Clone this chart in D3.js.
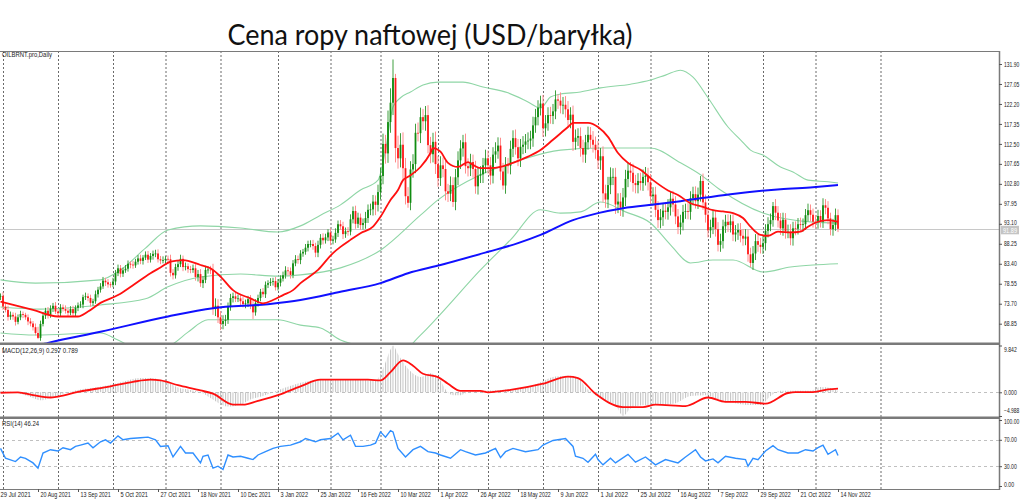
<!DOCTYPE html>
<html><head><meta charset="utf-8">
<script src="https://cdn.jsdelivr.net/npm/d3@7"></script>
<style>body{margin:0;background:#fff}svg{display:block}</style>
</head><body><svg id="c" width="1024" height="499"></svg>
<script>
// ---------------- DATA ----------------
const closes = [
75.5,75.6,73.0,72.2,70.5,71.0,70.6,69.3,70.4,71.2,71.0,70.4,69.4,68.9,68.0,66.6,
65.4,68.8,70.8,72.0,71.0,72.5,73.2,71.8,71.4,72.8,72.4,72.0,71.5,72.4,71.4,72.7,
73.3,73.5,75.3,75.5,75.1,73.9,74.3,76.0,77.1,77.9,79.3,78.9,78.4,78.3,79.1,81.1,
82.3,81.0,81.8,82.2,83.4,83.2,83.0,83.9,84.7,84.1,84.9,85.6,84.4,85.3,85.8,85.9,
84.5,84.2,84.3,84.6,84.5,81.2,80.6,82.6,83.3,84.6,82.6,82.8,82.1,81.9,82.3,80.2,
80.9,78.7,79.5,81.9,82.0,81.9,72.5,73.2,70.4,68.8,69.5,69.8,72.9,75.1,75.5,74.9,
75.0,74.3,73.6,73.8,74.8,73.4,71.6,73.9,75.1,76.6,76.0,78.3,78.7,79.0,79.2,77.7,
78.8,79.8,80.6,81.8,81.6,80.7,83.5,84.5,84.3,85.9,86.3,87.3,88.2,88.2,87.7,86.1,
88.0,89.7,89.1,89.8,91.0,89.0,89.3,90.9,93.0,92.5,90.6,91.3,91.2,94.2,96.2,93.1,
94.6,92.8,93.3,94.5,96.5,96.6,98.5,97.7,100.8,104.7,112.5,110.2,117.8,122.5,128.5,111.5,
109.0,112.3,106.6,99.8,98.2,106.3,107.6,115.2,115.1,119.0,118.0,119.5,112.2,110.0,113.0,107.6,
104.2,107.3,106.4,101.0,100.4,102.5,98.4,104.4,108.5,111.4,112.9,107.1,106.6,108.1,106.4,102.2,
104.8,105.1,107.3,109.0,107.3,104.8,109.9,110.7,112.1,105.8,102.4,107.3,107.2,111.3,113.9,111.7,
109.0,111.8,112.3,113.1,113.3,113.8,117.0,119.0,121.3,122.3,116.3,117.5,119.5,119.3,120.4,123.3,
123.0,121.8,122.0,120.9,118.3,119.6,113.0,114.0,114.4,111.5,109.9,112.9,114.7,113.5,112.3,111.0,
108.5,109.5,100.5,99.0,102.5,104.5,104.5,97.8,98.5,97.0,99.5,104.0,106.0,105.5,103.0,102.5,
103.5,103.0,104.5,104.8,103.2,99.8,100.2,96.5,94.0,94.7,96.3,96.0,97.1,99.2,97.8,94.9,
92.3,93.4,96.0,96.2,96.0,99.3,100.3,98.6,100.2,103.5,98.3,95.3,91.5,92.3,94.6,91.8,
88.0,88.9,92.5,93.6,92.8,93.7,90.5,91.0,91.6,90.2,89.5,90.0,85.7,83.6,85.9,88.9,
88.0,87.5,88.4,91.4,93.0,94.0,97.4,95.8,93.9,92.0,94.1,91.2,91.2,89.6,92.0,91.9,
93.0,92.8,93.0,95.2,96.4,95.3,93.6,93.5,95.0,93.6,97.6,97.0,94.4,91.8,92.8,95.2,
91.89];
const firstOpen = 75.2;
const wickUp = [
0.8,0.6,0.9,0.7,1.0,0.8,0.6,0.9,0.7,0.8,0.6,0.5,0.7,0.8,0.6,0.9,
1.5,0.8,0.9,0.7,0.9,0.8,0.7,0.9,0.6,0.8,0.7,0.9,0.6,0.7,0.8,0.6,
0.7,0.8,0.6,0.9,0.7,0.8,0.6,0.9,0.7,0.8,0.9,0.7,0.8,0.6,0.9,0.8,
0.9,0.8,0.7,0.9,0.8,0.6,0.9,0.7,0.8,0.9,0.6,0.8,0.9,0.7,0.8,0.9,
1.0,0.8,0.9,0.7,0.8,1.1,0.9,0.8,0.9,1.0,0.8,0.9,0.7,0.8,0.9,1.0,
1.0,1.2,0.9,1.0,0.8,0.9,1.5,1.8,1.6,1.5,1.4,1.2,1.1,1.0,0.9,1.0,
0.9,0.8,1.0,0.9,0.8,1.0,1.1,0.9,0.8,0.7,0.9,0.8,0.7,0.9,0.8,1.0,
0.9,0.8,0.9,1.0,0.8,0.9,0.8,1.0,0.9,0.8,0.7,0.9,0.8,0.9,1.0,0.8,
1.0,0.9,1.1,0.9,0.8,1.0,0.9,1.1,0.9,1.0,1.1,0.9,1.0,1.2,1.1,1.3,
1.2,1.0,1.1,1.5,1.3,1.4,1.6,1.5,1.8,2.0,2.5,2.2,2.8,3.5,4.5,1.0,
3.0,2.8,3.0,2.5,2.2,2.0,2.4,2.2,2.5,2.3,2.0,2.2,2.4,2.0,2.2,2.5,
2.0,2.2,1.9,2.0,1.8,2.1,1.9,2.0,2.2,2.0,1.8,2.1,1.9,2.0,1.8,2.0,
1.9,2.0,1.8,2.1,1.9,2.0,1.8,2.2,2.0,1.9,2.1,2.0,1.8,2.0,1.9,2.1,
2.0,1.9,2.1,1.8,2.0,1.9,2.1,2.0,1.8,1.9,2.1,2.0,1.9,2.0,1.8,2.2,
1.2,2.0,1.9,2.1,2.0,1.8,2.2,2.0,1.9,2.1,2.0,1.8,2.0,1.9,2.1,2.0,
2.2,2.0,2.4,2.1,2.0,2.3,2.1,2.2,2.0,2.1,2.3,2.2,2.0,2.1,2.2,2.0,
1.9,2.0,1.8,2.1,1.9,2.0,1.8,1.9,2.1,2.0,1.8,1.9,2.0,1.8,1.9,2.0,
1.8,1.9,1.7,1.8,1.9,1.7,1.8,1.9,1.7,1.2,1.8,1.9,1.7,1.8,1.9,1.7,
1.7,1.8,1.6,1.7,1.8,1.6,1.7,1.8,1.6,1.7,1.6,1.8,1.7,1.6,1.8,1.7,
1.6,1.7,1.8,1.6,1.7,1.6,1.0,1.7,1.6,1.8,1.7,1.6,1.7,1.8,1.6,1.7,
1.5,1.6,1.4,1.5,1.6,1.4,1.5,1.6,1.5,1.4,1.7,1.5,1.6,1.4,1.5,1.6,
1.4];
const wickDn = [
0.7,0.9,0.8,0.6,0.9,0.7,0.8,0.9,0.6,0.7,0.8,0.6,0.9,0.7,0.8,0.6,
0.3,0.7,0.6,0.8,0.9,0.7,0.8,0.6,0.7,0.9,0.6,0.7,0.8,0.6,0.7,0.8,
0.8,0.6,0.9,0.7,0.8,0.9,0.7,0.6,0.8,0.7,0.6,0.9,0.8,0.7,0.6,0.9,
0.7,0.9,0.8,0.6,0.7,0.9,0.8,0.6,0.7,0.8,0.9,0.6,0.8,0.7,0.9,0.8,
0.8,0.9,0.7,0.8,1.2,0.9,1.0,0.8,0.9,0.7,1.0,0.8,0.9,0.8,0.7,0.9,
1.1,0.9,1.2,0.8,0.9,1.0,1.5,1.8,1.4,1.5,1.3,1.2,1.0,0.9,1.1,0.8,
0.8,0.9,0.8,1.0,0.9,1.0,1.6,0.8,0.9,0.8,0.7,0.9,0.8,0.7,0.9,0.8,
0.8,0.9,0.7,0.8,1.0,0.9,0.8,0.7,0.9,1.0,0.8,0.7,0.9,0.8,0.9,1.1,
1.1,0.9,1.0,0.8,0.9,1.1,0.9,0.8,1.0,0.9,1.2,0.9,1.0,0.9,1.0,1.2,
1.0,1.2,1.1,1.4,1.2,1.3,1.5,2.5,1.6,1.8,2.0,2.5,2.3,2.6,3.0,3.5,
2.5,2.2,2.6,2.0,1.2,1.8,2.0,2.2,2.0,2.4,2.1,2.3,2.0,2.2,2.0,2.4,
2.1,1.9,2.0,2.2,2.0,1.8,1.2,2.0,1.9,2.1,2.0,1.8,2.0,1.9,2.1,1.8,
2.0,1.8,2.1,1.9,2.0,2.2,1.9,2.0,1.8,2.1,1.0,2.0,1.9,2.1,2.0,1.8,
1.9,2.1,1.8,2.0,1.9,2.1,2.0,1.8,2.0,1.9,2.1,2.0,1.8,1.9,2.0,1.9,
2.0,1.9,2.1,2.0,1.8,2.0,2.2,1.9,2.0,2.1,1.9,2.0,1.8,2.0,1.9,2.1,
2.1,2.3,2.2,2.0,2.1,2.2,2.0,2.3,2.1,2.0,2.2,2.1,2.0,2.2,2.1,2.0,
2.0,1.8,1.9,2.1,2.0,1.9,2.0,1.8,1.9,2.0,2.1,1.8,1.9,2.0,1.8,1.9,
1.7,1.8,1.9,1.7,1.8,1.9,1.7,1.8,1.9,1.7,1.8,1.9,1.7,1.8,1.7,1.8,
1.6,1.7,1.8,1.6,1.7,1.8,1.6,1.7,1.8,1.6,1.7,1.6,1.8,1.0,1.7,1.6,
1.7,1.6,1.7,1.8,1.6,1.7,1.6,1.8,1.7,1.6,1.8,1.7,1.6,1.7,1.8,1.6,
1.4,1.5,1.6,1.4,1.5,1.6,1.4,1.5,1.6,1.4,1.5,1.6,1.4,1.5,1.6,1.4,
0.8];

// moving average SMA (red), sampled at bar indices
const maBars = [1,14,24,32,36,41,48,54,61,65,69,74,81,85,89,94,101,106,110,114,118,121,128,134,137,141,145,150,153,157,160,162,164,169,173,174,177,180,184,188,190,193,197,201,206,212,217,222,228,230,236,240,244,248,252,257,262,268,272,277,282,286,290,294,298,301,305,308,312,317,321,324,328,332,336];
const maVals = [74.2,72.2,70.6,70.6,71.8,73.9,75.8,78.2,81.1,82.5,83.9,84.3,83.1,82.3,80.3,77.0,75.0,73.8,74.6,75.8,77.0,78.7,81.9,86.0,87.5,89.2,90.8,92.4,94.8,98.9,101.3,103.7,104.5,106.9,110.3,111.5,110.6,107.9,106.9,108.1,107.4,106.6,106.6,106.9,107.9,109.4,111.0,113.5,116.6,117.6,117.6,116.6,114.2,110.3,107.9,106.2,103.7,101.2,100.1,98.1,97.2,96.4,96.1,95.7,94.5,92.4,90.4,90.2,91.2,91.0,91.2,92.4,93.6,94.0,93.6];
// long SMA (blue)
const saBars = [0,16,20,41,68,86,108,121,137,153,164,177,196,208,217,230,240,250,264,273,293,313,326,336];
const saVals = [62.8,63.6,64.2,66.9,70.6,72.6,73.6,74.6,76.6,78.7,81.1,83.1,86.3,88.4,90.4,94.0,95.7,96.9,97.9,98.6,100.3,101.5,102.0,102.5];
// Bollinger bands (green)
const ubBars = [1,15,41,49,59,68,81,97,112,121,129,137,145,152,155,158,161,165,170,176,186,194,204,212,217,221,225,233,241,253,261,267,273,278,284,292,297,301,306,313,318,324,332,336];
const ubVals = [79.5,78.7,79.5,81.9,87.2,91.6,92.6,92.1,91.1,92.6,95.2,97.7,101.3,103.7,111.0,121.5,123.7,125.1,126.8,127.5,127.5,126.3,124.9,122.7,121.2,123.9,124.6,125.1,126.1,127.0,128.0,129.2,130.4,128.7,123.7,116.6,113.5,111.0,109.8,106.9,105.7,103.7,103.3,103.0];
const mbBars = [1,17,41,59,68,81,97,112,121,137,153,169,176,193,209,225,241,261,273,281,289,306,326,336];
const mbVals = [72.9,72.4,73.4,74.9,77.8,80.2,80.9,80.4,80.7,82.4,86.7,95.2,98.9,105.0,108.6,111.0,111.5,111.5,107.9,105.0,101.3,95.7,93.5,93.3];
const lbBars = [1,15,41,48,57,69,76,84,97,112,121,129,137,150,161,169,176,193,205,217,225,233,241,251,261,269,277,286,294,306,317,326,336];
const lbVals = [66.6,66.1,66.6,64.9,62.5,63.7,66.8,69.8,69.8,69.8,68.5,67.8,64.9,63.0,62.0,66.1,70.5,81.9,89.2,96.5,95.7,96.0,98.4,96.0,93.3,88.0,83.6,84.3,84.3,81.4,82.6,83.1,83.4];
// MACD histogram + signal
const histBars = [1,5,9,13,17,21,25,29,33,39,45,51,57,61,65,69,72,77,81,85,89,92,97,101,106,110,115,121,129,137,145,151,154,157,158,160,163,165,169,173,177,179,182,185,189,193,201,206,213,217,223,229,232,235,239,243,247,250,253,259,265,271,277,283,286,289,295,301,305,309,313,321,325,329,333,336];
const histVals = [0.2,0.1,-0.3,-1.0,-1.7,-1.2,-0.5,0.1,0.6,1.0,1.6,2.4,3.0,3.0,2.6,1.8,1.0,0.5,0.0,-1.2,-2.5,-3.0,-2.6,-1.5,-0.8,0.0,1.0,2.0,2.7,2.8,2.6,2.5,5.0,9.0,9.84,8.0,5.6,4.4,3.2,4.0,2.5,0.6,-0.6,-0.6,0.2,0.3,0.5,0.7,1.2,2.1,3.3,3.5,3.0,1.1,-0.6,-1.7,-2.7,-4.99,-3.4,-2.7,-2.7,-2.3,-0.8,-0.6,-1.0,-1.7,-2.3,-2.7,-2.7,-0.8,0.3,0.3,0.3,1.1,0.9,0.3];
const sigBars = [1,8,14,21,24,32,45,54,61,65,72,81,86,94,98,104,112,121,129,148,153,157,162,166,170,176,180,185,193,196,205,218,228,232,239,250,258,263,275,284,291,299,307,316,319,326,332,336];
const sigVals = [-0.1,0,-0.6,-1.1,-0.9,0.07,1.25,2.2,2.65,2.5,1.5,0.4,-0.3,-2.6,-2.6,-1.8,-0.6,1.25,2.65,2.65,2.5,4.25,6.7,5.6,3.9,3.2,1.8,0.3,0.3,0.0,0.5,1.8,3.3,3.0,-0.3,-3.1,-3.1,-2.6,-2.9,-1.1,-2.0,-2.0,-2.4,-0.15,0.05,0.05,0.6,0.79];
// RSI
const rsiBars = [1,3,7,9,11,14,16,18,21,24,26,29,31,33,36,38,41,43,45,48,50,53,57,60,63,65,68,70,73,75,78,81,82,84,86,88,90,92,94,97,100,102,104,107,110,113,117,121,123,127,129,133,136,138,141,143,146,149,151,153,155,157,158,160,163,166,169,172,175,177,181,185,187,191,195,199,201,203,206,211,216,218,222,227,230,231,234,236,239,240,242,245,247,252,255,259,263,267,272,275,279,281,283,286,288,291,295,299,300,302,304,307,310,312,316,320,323,326,328,330,332,335,336];
const rsiVals = [57,42,37,44,42,35,27,50,55,53,58,55,60,62,65,58,67,70,65,76,70,72,73,74,70,60,61,44,60,50,50,35,45,47,27,30,25,47,44,45,42,40,47,52,57,60,62,67,72,67,70,72,80,70,77,60,60,62,65,82,74,84,82,57,44,55,60,52,50,47,42,55,52,47,50,57,43,52,57,52,55,62,69,72,60,45,42,36,48,40,32,42,35,48,36,44,32,40,35,44,55,44,38,41,35,45,42,40,30,42,40,53,61,55,50,50,55,53,58,62,48,55,46.24];

// ticks & labels
const priceTicks = [131.90,127.05,122.20,117.35,112.50,107.65,102.80,97.95,93.10,88.25,83.40,78.55,73.70,68.85];
const macdTicks = [9.842,0.000,-4.988];
const rsiTicks = [100,70,30,0];
const rsiLevels = [70,30];
const dateLabels = ["29 Jul 2021","20 Aug 2021","13 Sep 2021","5 Oct 2021","27 Oct 2021","18 Nov 2021","10 Dec 2021","3 Jan 2022","25 Jan 2022","16 Feb 2022","10 Mar 2022","1 Apr 2022","26 Apr 2022","18 May 2022","9 Jun 2022","1 Jul 2022","25 Jul 2022","16 Aug 2022","7 Sep 2022","29 Sep 2022","21 Oct 2022","14 Nov 2022"];
const dateLabelBars = dateLabels.map((d,i)=>i*16);
const monthStartBars = [2,24,46,67,89,112,133,153,176,196,218,240,261,284,306,327,353];
const lastPrice = 91.89;
const title = "Cena ropy naftowej (USD/baryłka)";
const symbolText = "OILBRNT.pro,Daily";
const macdText = "MACD(12,26,9) 0.297 0.789";
const rsiText = "RSI(14) 46.24";

// ---------------- LAYOUT ----------------
const svg = d3.select("#c");
const R = 999; // right edge of plot
const P = {main:[51,343], macd:[345,417], rsi:[418,489]};
const x = d3.scaleLinear().domain([0,336]).range([-2,838]);
const yP = d3.scaleLinear().domain([68.85,131.90]).range([323.7,64]);
const yM = d3.scaleLinear().domain([-4.988,9.842]).range([416,345.5]);
const yR = d3.scaleLinear().domain([0,100]).range([486,420]);
const AX = "Liberation Sans, Arial, sans-serif";

const defs = svg.append("defs");
[["cm",P.main],["cd",P.macd],["cr",P.rsi]].forEach(([id,[a,b]])=>{
  defs.append("clipPath").attr("id",id).append("rect").attr("x",0).attr("y",a).attr("width",R).attr("height",b-a);
});
const pat = defs.append("pattern").attr("id","hp").attr("patternUnits","userSpaceOnUse")
  .attr("width",2.5).attr("height",20).attr("x",x(0)-0.5);
pat.append("rect").attr("x",0).attr("y",0).attr("width",1).attr("height",20).attr("fill","#c2c2c2");

// title
svg.append("text").attr("x",430).attr("y",45).attr("text-anchor","middle")
  .attr("font-family","Lato, 'Open Sans', sans-serif").attr("font-size",29).attr("fill","#111")
  .attr("textLength",405).attr("lengthAdjust","spacingAndGlyphs").text(title);

// vertical month grid
svg.append("g").selectAll("line").data(monthStartBars).join("line")
  .attr("x1",d=>x(d)+0.5).attr("x2",d=>x(d)+0.5).attr("y1",P.main[0]).attr("y2",P.rsi[1])
  .attr("stroke","#6a6a6a").attr("stroke-width",1).attr("stroke-dasharray","2,2");

// last price line
svg.append("line").attr("x1",0).attr("x2",R).attr("y1",Math.round(yP(lastPrice))+0.5).attr("y2",Math.round(yP(lastPrice))+0.5)
  .attr("stroke","#c8c8c8").attr("stroke-width",1);

// ---- main panel ----
const gm = svg.append("g").attr("clip-path","url(#cm)");
const lineOf = (bars,vals,ys,curve)=>d3.line().x(d=>x(d[0])).y(d=>ys(d[1])).curve(curve||d3.curveMonotoneX)(bars.map((b,i)=>[b,vals[i]]));
[[ubBars,ubVals],[mbBars,mbVals],[lbBars,lbVals]].forEach(([b,v])=>{
  gm.append("path").attr("d",lineOf(b,v,yP)).attr("fill","none").attr("stroke","#8fd6a6").attr("stroke-width",1.1);
});
// candles
const candles = closes.map((c,i)=>{
  const o = i===0?firstOpen:closes[i-1];
  return {i,o,c,h:Math.max(o,c)+wickUp[i],l:Math.min(o,c)-wickDn[i]};
});
const cg = gm.append("g");
cg.selectAll("line").data(candles).join("line")
  .attr("x1",d=>x(d.i)).attr("x2",d=>x(d.i)).attr("y1",d=>yP(d.h)).attr("y2",d=>yP(d.l))
  .attr("stroke",d=>d.c>=d.o?"#3f9f3f":"#ff8c8c").attr("stroke-width",1);
cg.selectAll("rect").data(candles).join("rect")
  .attr("x",d=>x(d.i)-0.9).attr("width",1.8)
  .attr("y",d=>yP(Math.max(d.o,d.c))).attr("height",d=>Math.max(0.8,Math.abs(yP(d.o)-yP(d.c))))
  .attr("fill",d=>d.c>=d.o?"#118c11":"#ff1a1a");
gm.append("path").attr("d",lineOf(saBars,saVals,yP)).attr("fill","none").attr("stroke","#1010ff").attr("stroke-width",2);
gm.append("path").attr("d",lineOf(maBars,maVals,yP)).attr("fill","none").attr("stroke","#ff1010").attr("stroke-width",1.8);

// ---- MACD panel ----
const gd = svg.append("g").attr("clip-path","url(#cd)");
gd.append("line").attr("x1",0).attr("x2",R).attr("y1",Math.round(yM(0))+0.5).attr("y2",Math.round(yM(0))+0.5)
  .attr("stroke","#c0c0c0").attr("stroke-dasharray","3,3");
gd.append("path").attr("d",d3.area().x(d=>x(d[0])).y0(yM(0)).y1(d=>yM(d[1])).curve(d3.curveMonotoneX)(histBars.map((b,i)=>[b,histVals[i]])))
  .attr("fill","url(#hp)");
gd.append("path").attr("d",lineOf(sigBars,sigVals,yM)).attr("fill","none").attr("stroke","#ff1010").attr("stroke-width",1.8);

// ---- RSI panel ----
const gr = svg.append("g").attr("clip-path","url(#cr)");
gr.selectAll("line.lv").data(rsiLevels).join("line").attr("class","lv")
  .attr("x1",0).attr("x2",R).attr("y1",d=>Math.round(yR(d))+0.5).attr("y2",d=>Math.round(yR(d))+0.5)
  .attr("stroke","#c0c0c0").attr("stroke-dasharray","3,3");
gr.append("path").attr("d",lineOf(rsiBars,rsiVals,yR,d3.curveLinear)).attr("fill","none").attr("stroke","#2f8fff").attr("stroke-width",1.4);

// ---- frames ----
svg.append("line").attr("x1",0).attr("x2",R).attr("y1",51.5).attr("y2",51.5).attr("stroke","#7a7a7a");
svg.append("rect").attr("x",0).attr("y",342.5).attr("width",R).attr("height",2.5).attr("fill","#7a7a7a");
svg.append("rect").attr("x",0).attr("y",416.5).attr("width",R).attr("height",2.5).attr("fill","#7a7a7a");
svg.append("line").attr("x1",0).attr("x2",R).attr("y1",489.5).attr("y2",489.5).attr("stroke","#7a7a7a");
svg.append("line").attr("x1",R+0.5).attr("x2",R+0.5).attr("y1",51).attr("y2",490).attr("stroke","#7a7a7a").attr("stroke-width",1.5);

// ---- right axes ----
function rightAxis(scale,ticks,fmt,shift){
  const g = svg.append("g").attr("transform",`translate(${R},0)`);
  const ax = d3.axisRight(scale).tickValues(ticks).tickSize(3).tickFormat(fmt);
  g.call(ax);
  g.select(".domain").remove();
  g.selectAll(".tick line").attr("stroke","#555");
  g.selectAll(".tick text").attr("font-family",AX).attr("font-size",6.5).attr("fill","#222")
    .attr("x",5).attr("dy",(d,i)=>shift?shift(d,i):"0.32em")
    .attr("textLength",function(){return this.textContent.length*2.55;}).attr("lengthAdjust","spacingAndGlyphs");
}
rightAxis(yP,priceTicks,d3.format(".2f"),(d)=>Math.abs(d-93.10)<0.01?"0.1em":"0.32em");
rightAxis(yM,macdTicks,d3.format(".3f"),(d)=>d>9?"0.9em":(d<-4?"-0.55em":"0.32em"));
rightAxis(yR,rsiTicks,d3.format(".2f"),(d)=>d===100?"0.55em":(d===0?"0.1em":"0.32em"));

// last price tag
const ly = yP(lastPrice);
svg.append("rect").attr("x",1001).attr("y",ly-3).attr("width",18).attr("height",8.5).attr("fill","#c4c4c4");
svg.append("text").attr("x",1003).attr("y",ly+4).attr("font-family",AX).attr("font-size",6.5).attr("fill","#fff")
  .attr("textLength",14).attr("lengthAdjust","spacingAndGlyphs").text(d3.format(".2f")(lastPrice));

// ---- bottom date axis ----
const gb = svg.append("g").attr("transform","translate(0,489)");
gb.call(d3.axisBottom(x).tickValues(dateLabelBars).tickSize(3).tickFormat((d,i)=>dateLabels[i]));
gb.select(".domain").remove();
gb.selectAll(".tick line").attr("stroke","#555");
gb.selectAll(".tick text").attr("font-family",AX).attr("font-size",7).attr("fill","#222")
  .attr("text-anchor","start").attr("x",2).attr("y",3).attr("dy","0.71em")
  .attr("textLength",function(){return this.textContent.length*2.75;}).attr("lengthAdjust","spacingAndGlyphs");

// ---- panel captions ----
const cap = (t,y,len)=>svg.append("text").attr("x",2).attr("y",y).attr("font-family",AX).attr("font-size",7).attr("fill","#222")
  .attr("textLength",len).attr("lengthAdjust","spacingAndGlyphs").text(t);
cap(symbolText,57,50);
cap(macdText,353,76);
cap(rsiText,426,37);
</script></body></html>
